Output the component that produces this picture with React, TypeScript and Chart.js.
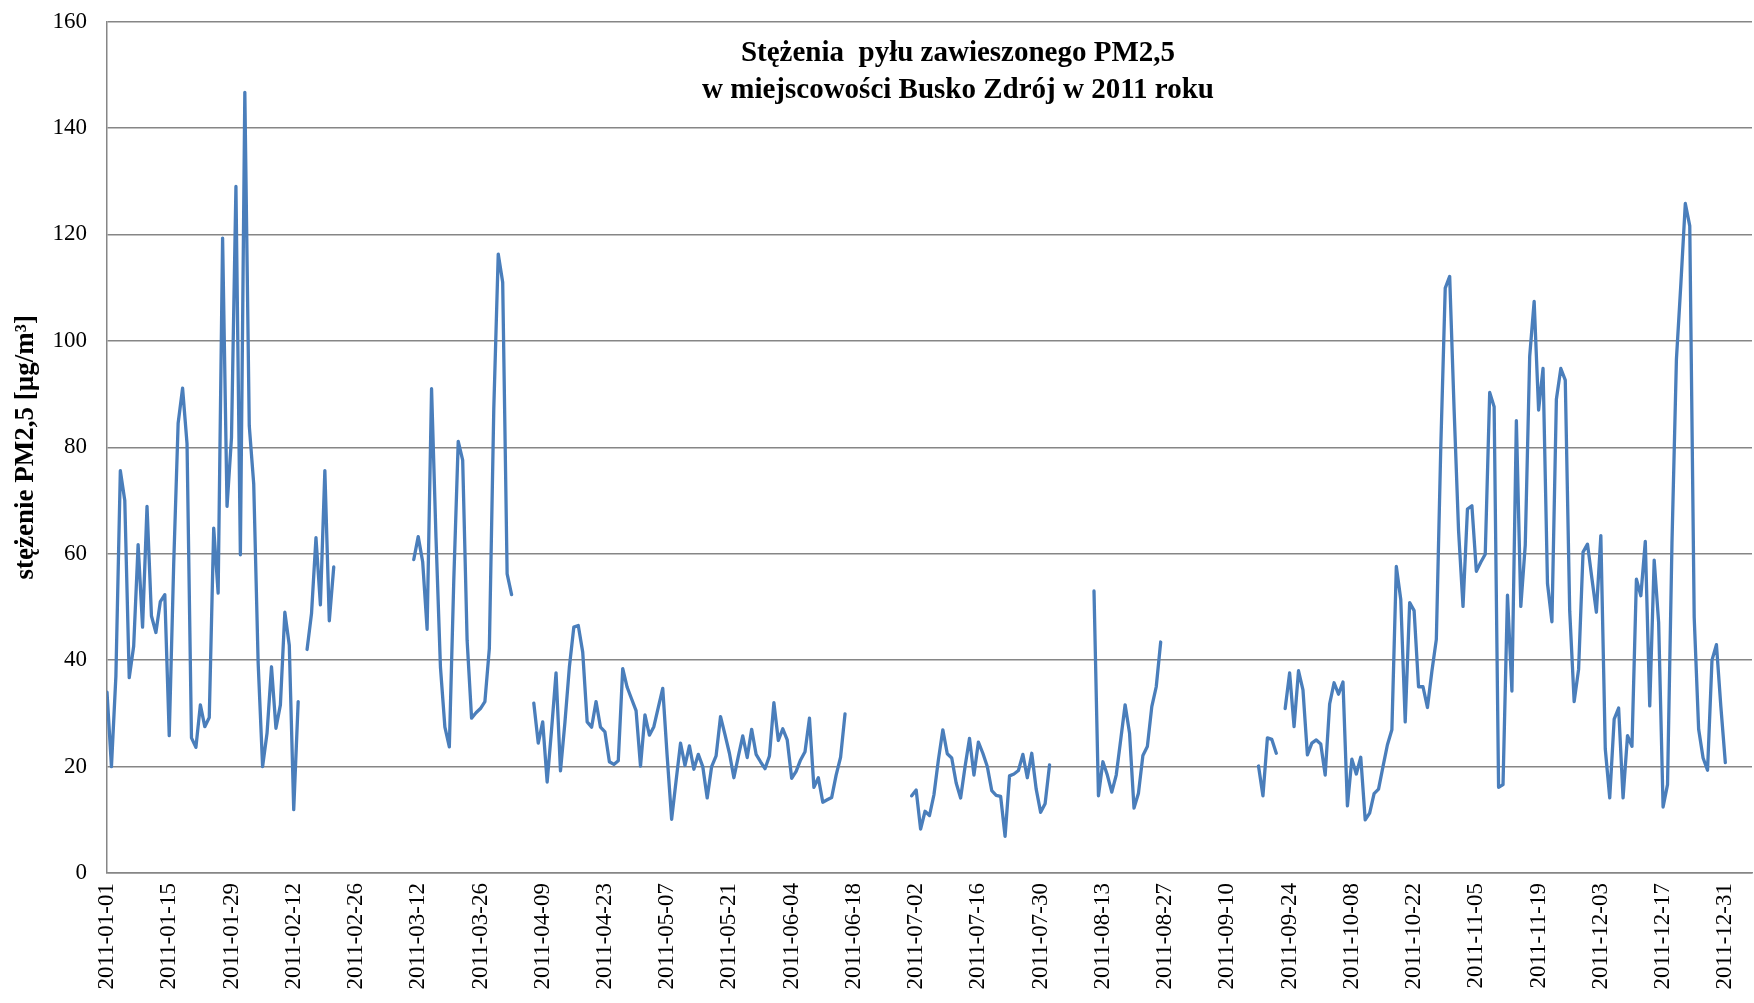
import React, { useEffect, useRef } from "react";
import { Chart, registerables } from "chart.js";

Chart.register(...registerables);

// Daily PM2.5 values (µg/m³), one array per month; null = no measurement
const jan = [34, 20, 37, 75.6, 70, 36.7, 42.6, 61.7, 46.2, 68.9, 48.3, 45.2, 51, 52.3, 25.8, 58, 84.5, 91.1, 80.7, 25.4, 23.6, 31.6, 27.5, 29.2, 64.8, 52.6, 119.3, 68.9, 81.8, 129, 59.8];
const feb = [146.7, 84, 73.1, 39.4, 20, 26.3, 38.75, 27.2, 31.6, 49, 42.8, 11.9, 32.2, null, 42, 48.75, 63, 50.4, 75.6, 47.4, 57.5, null, null, null, null, null, null, null];
const mar = [null, null, null, null, null, null, null, null, null, null, 58.9, 63.2, 58.5, 45.8, 91, 63, 38.7, 27.4, 23.7, 55, 81.1, 77.6, 43.7, 29.1, 30.1, 30.9, 32.2, 42.2, 87.3, 116.3, 111];
const apr = [56.2, 52.3, null, null, null, null, 31.9, 24.4, 28.4, 17.1, 27, 37.6, 19.2, 28.3, 38.7, 46.2, 46.5, 41.5, 28.4, 27.4, 32.2, 27.4, 26.5, 20.9, 20.4, 21.1, 38.4, 34.9, 32.7, 30.5];
const may = [20.1, 29.7, 25.9, 27.5, 31.1, 34.7, 21.9, 10.1, 17.3, 24.4, 20.2, 23.9, 19.5, 22.3, 20, 14.1, 20, 22, 29.4, 26, 22.5, 17.9, 21.9, 25.75, 21.7, 27, 22.3, 20.9, 19.6, 22, 32];
const jun = [24.9, 27.1, 25, 17.8, 19.1, 21.25, 22.8, 29.1, 16.1, 17.9, 13.3, 13.75, 14.2, 18.4, 21.75, 29.9, null, null, null, null, null, null, null, null, null, null, null, null, null, null];
const jul = [14.5, 15.6, 8.25, 11.6, 10.8, 14.7, 21.25, 26.9, 22.4, 21.6, 16.9, 14.1, 20, 25.3, 18.4, 24.6, 22.5, 20, 15.5, 14.6, 14.4, 6.9, 18.25, 18.6, 19.25, 22.3, 17.9, 22.5, 15.75, 11.4, 13];
const aug = [20.3, null, null, null, null, null, null, null, null, null, 53, 14.5, 20.9, 18.4, 15.2, 18.4, 25, 31.6, 26.25, 12.2, 15, 22.1, 23.75, 31.25, 35, 43.4, null, null, null, null, null];
const sep = [null, null, null, null, null, null, null, null, null, null, null, null, null, null, null, null, 20.1, 14.5, 25.4, 25.1, 22.5, null, 30.9, 37.6, 27.5, 38, 34.4, 22.2, 24.4, 25];
const oct = [24.25, 18.4, 31.75, 35.75, 33.6, 35.9, 12.6, 21.4, 18.6, 21.75, 10, 11.25, 14.9, 15.75, 20, 24.1, 26.9, 57.6, 51.4, 28.4, 50.8, 49.3, 35, 35, 31.1, 37.9, 43.9, 80, 109.9, 112.1, 87];
const nov = [64.3, 50.1, 68.4, 69, 56.7, 58.4, 59.9, 90.3, 87.6, 16.1, 16.6, 52.2, 34.2, 85, 50.1, 61.6, 97.1, 107.4, 87, 94.8, 54.4, 47.2, 89, 94.8, 92.6, 49.2, 32.2, 38.3, 60.3, 61.8];
const dec = [55.3, 49, 63.4, 23.3, 14.1, 28.9, 31, 14.1, 25.8, 23.8, 55.2, 52.1, 62.3, 31.4, 58.8, 47.1, 12.4, 16.6, 62, 96.5, 110.7, 125.8, 121.6, 48, 27, 21.6, 19.3, 40, 42.9, 31.2, 20.75];

// X-axis tick labels, every 14 days from 2011-01-01
const tickLabels = [
  "2011-01-01", "2011-01-15", "2011-01-29", "2011-02-12", "2011-02-26", "2011-03-12", "2011-03-26",
  "2011-04-09", "2011-04-23", "2011-05-07", "2011-05-21", "2011-06-04", "2011-06-18", "2011-07-02",
  "2011-07-16", "2011-07-30", "2011-08-13", "2011-08-27", "2011-09-10", "2011-09-24", "2011-10-08",
  "2011-10-22", "2011-11-05", "2011-11-19", "2011-12-03", "2011-12-17", "2011-12-31",
];

const titleLines = ["Stężenia  pyłu zawieszonego PM2,5", "w miejscowości Busko Zdrój w 2011 roku"];
const yAxisTitle = "stężenie PM2,5 [µg/m³]";

export default function App() {
  const ref = useRef<HTMLCanvasElement>(null);

  useEffect(() => {
    if (!ref.current) return;
    const values = [...jan, ...feb, ...mar, ...apr, ...may, ...jun, ...jul, ...aug, ...sep, ...oct, ...nov, ...dec];
    const points = values.map((v, i) => ({ x: i, y: v }));

    const textPlugin = {
      id: "customText",
      afterDraw(chart: any) {
        const ctx = chart.ctx;
        const area = chart.chartArea;
        ctx.save();
        ctx.fillStyle = "#000";
        ctx.textAlign = "center";
        ctx.textBaseline = "middle";
        ctx.font = 'bold 29px "Liberation Serif", "Times New Roman", serif';
        const cx = 958;
        ctx.fillText(titleLines[0], cx, 54);
        ctx.fillText(titleLines[1], cx, 91);
        ctx.translate(26, (area.top + area.bottom) / 2);
        ctx.rotate(-Math.PI / 2);
        ctx.font = 'bold 27px "Liberation Serif", "Times New Roman", serif';
        ctx.fillText(yAxisTitle, 0, 0);
        ctx.restore();
      },
    };

    const font = { family: '"Liberation Serif", "Times New Roman", serif', size: 23 };

    const chart = new Chart(ref.current, {
      type: "line",
      data: {
        datasets: [
          {
            data: points as any,
            borderColor: "#4a7ebb",
            backgroundColor: "#4a7ebb",
            borderWidth: 3.3,
            pointRadius: 0,
            tension: 0,
            spanGaps: false,
            borderJoinStyle: "round",
            borderCapStyle: "round",
          },
        ],
      },
      options: {
        animation: false,
        responsive: false,
        maintainAspectRatio: false,
        layout: { padding: { top: 21.5, right: 2, left: 0, bottom: 0 } },
        plugins: { legend: { display: false }, tooltip: { enabled: false }, title: { display: false } },
        scales: {
          x: {
            type: "linear",
            min: 0,
            max: 370,
            grid: { display: false, drawTicks: false },
            border: { color: "#868686", width: 1.5 },
            ticks: {
              autoSkip: false,
              maxRotation: 90,
              minRotation: 90,
              padding: 10,
              color: "#000",
              font,
              callback: (v: any) => tickLabels[Math.round(Number(v) / 14)] ?? "",
            },
            afterBuildTicks: (axis: any) => {
              axis.ticks = tickLabels.map((_, i) => ({ value: i * 14 }));
            },
            afterFit: (s: any) => {
              s.height = 130;
              s.paddingLeft = 0;
              s.paddingRight = 0;
            },
          },
          y: {
            min: 0,
            max: 160,
            ticks: { stepSize: 20, padding: 20, color: "#000", font },
            grid: { color: "#868686", lineWidth: 1.4, drawTicks: false },
            border: { color: "#868686", width: 1.5 },
            afterFit: (s: any) => {
              s.width = 107;
              s.paddingTop = 0;
              s.paddingBottom = 0;
            },
          },
        },
      },
      plugins: [textPlugin],
    });
    return () => chart.destroy();
  }, []);

  return (
    <div style={{ position: "fixed", left: 0, top: 0, width: 1754, height: 1003, background: "#fff" }}>
      <canvas ref={ref} width={1754} height={1003} style={{ display: "block" }} />
    </div>
  );
}
